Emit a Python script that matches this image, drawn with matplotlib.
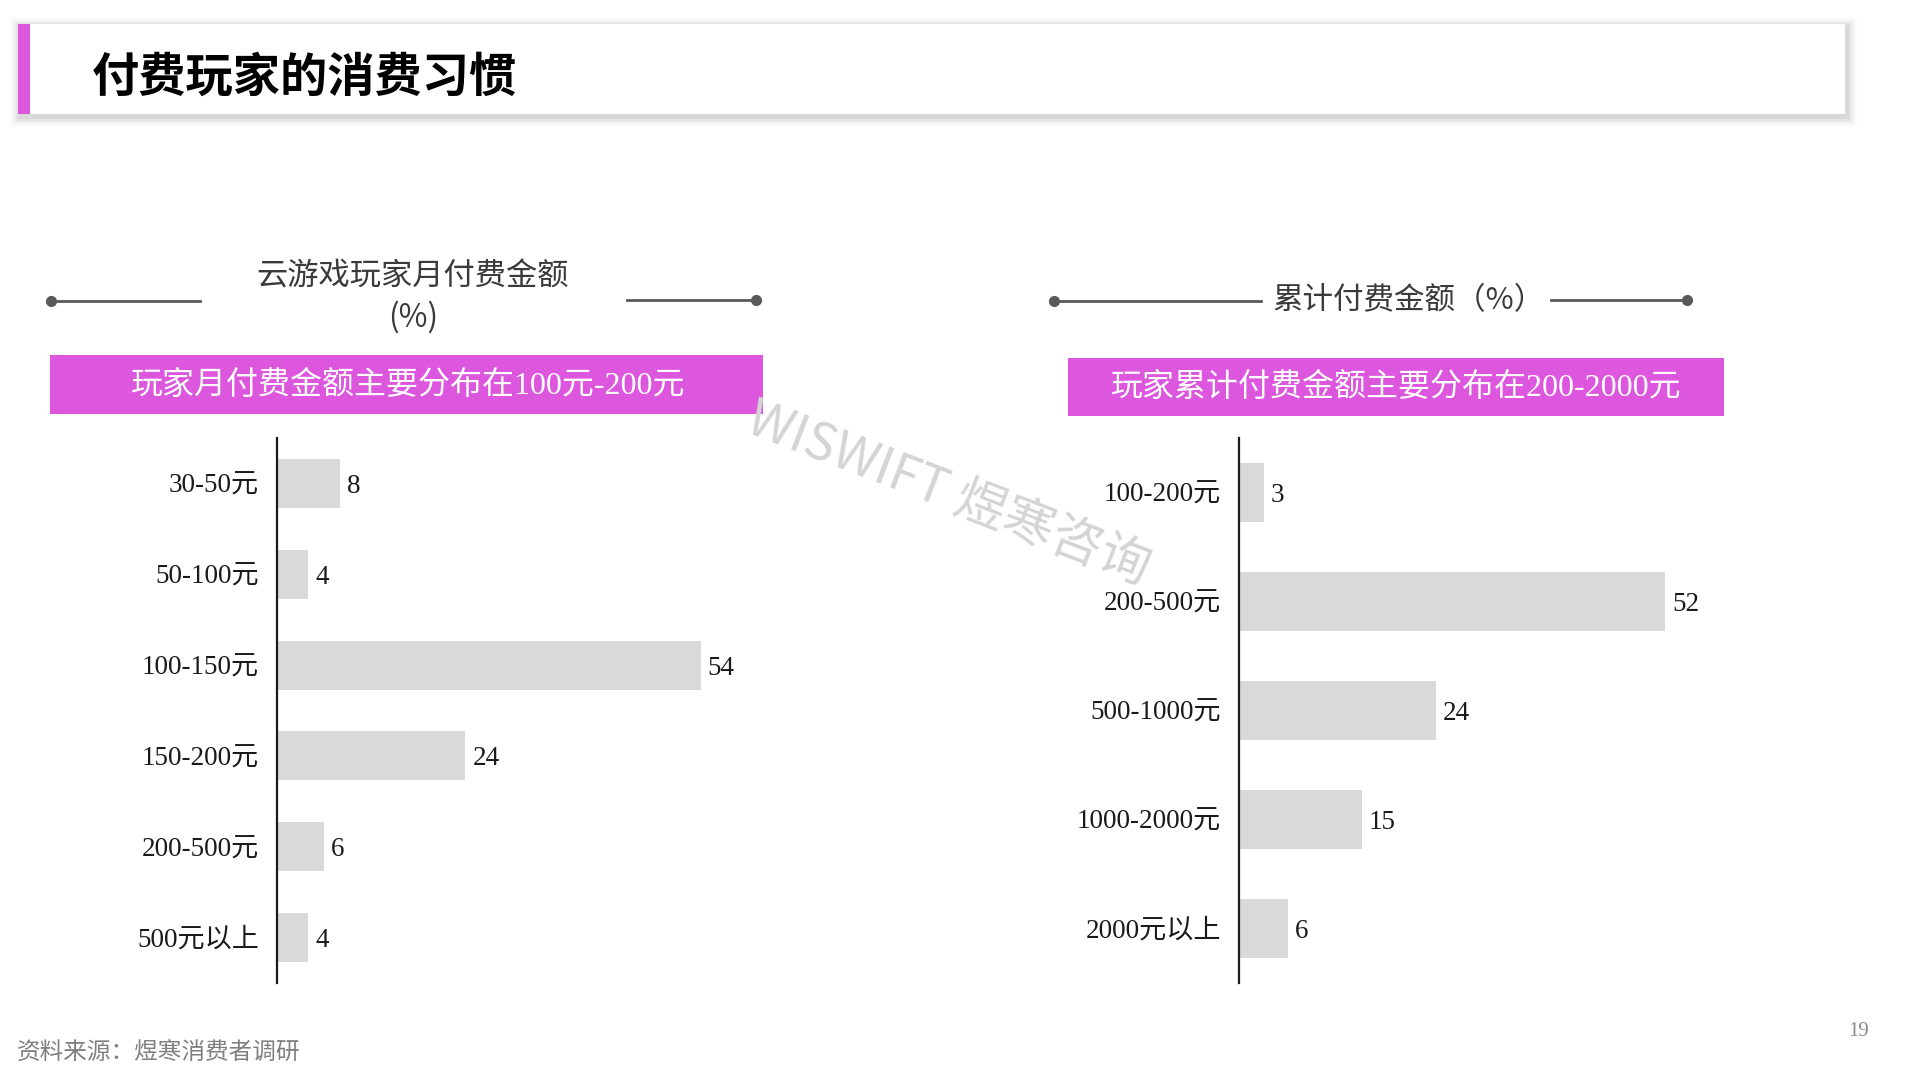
import matplotlib
matplotlib.use("Agg")
import matplotlib.pyplot as plt
from matplotlib.patches import Rectangle

plt.rcParams['font.family'] = ['Noto Sans CJK SC', 'DejaVu Sans']

# ---------------- data ----------------
page_title = "付费玩家的消费习惯"
left_title = "云游戏玩家月付费金额\n(%)"
left_banner = "玩家月付费金额主要分布在100元-200元"
left_cats = ['30-50元', '50-100元', '100-150元', '150-200元', '200-500元', '500元以上']
left_vals = [8, 4, 54, 24, 6, 4]

right_title = "累计付费金额（%）"
right_banner = "玩家累计付费金额主要分布在200-2000元"
right_cats = ['100-200元', '200-500元', '500-1000元', '1000-2000元', '2000元以上']
right_vals = [3, 52, 24, 15, 6]

source_text = "资料来源：煜寒消费者调研"
page_no = "19"
watermark = "WISWIFT 煜寒咨询"

MAGENTA = '#DC56DE'
BAR = '#D9D9D9'
LINE = '#595959'
SERIF = ['Liberation Serif', 'Noto Sans CJK SC']

W, H = 1920, 1080
fig = plt.figure(figsize=(19.2, 10.8), dpi=100)
fig.patch.set_facecolor('white')

# background canvas in pixel coordinates
bg = fig.add_axes([0, 0, 1, 1])
bg.set_xlim(0, W)
bg.set_ylim(H, 0)
bg.axis('off')

# header box with soft shadow
for i, a in enumerate([0.015, 0.02, 0.03, 0.04, 0.05]):
    d = 10 - 2 * i
    bg.add_patch(Rectangle((18 - d + 2, 24 - d + 3), 1827 + 2 * d, 90 + 2 * d,
                           facecolor='black', edgecolor='none', alpha=a, zorder=1))
bg.add_patch(Rectangle((18, 24), 1827, 90, facecolor='white', edgecolor='none', zorder=2))
bg.add_patch(Rectangle((18, 24), 12, 90, facecolor=MAGENTA, edgecolor='none', zorder=3))
bg.text(92, 78, page_title, fontsize=34, fontweight='bold', color='black',
        ha='left', va='center', zorder=4)

# left section title with lines
bg.text(413, 297, left_title, fontsize=22.5, color='#3a3a3a', ha='center', va='center',
        linespacing=1.3, zorder=4)
bg.plot([51, 200], [301, 301], color=LINE, lw=2, zorder=4)
bg.plot([51], [301], 'o', color=LINE, ms=7, zorder=4)
bg.plot([627, 756], [300, 300], color=LINE, lw=2, zorder=4)
bg.plot([756], [300], 'o', color=LINE, ms=7, zorder=4)

# left banner
bg.add_patch(Rectangle((50, 355), 713, 59, facecolor=MAGENTA, edgecolor='none', zorder=3))
bg.text(408, 386, left_banner, fontsize=23, color='white', ha='center', va='center',
        family=SERIF, zorder=4)

# right section title with lines
bg.text(1409, 301, right_title, fontsize=22, color='#3a3a3a', ha='center', va='center', zorder=4)
bg.plot([1054, 1261], [301, 301], color=LINE, lw=2, zorder=4)
bg.plot([1054], [301], 'o', color=LINE, ms=7, zorder=4)
bg.plot([1551, 1687], [300, 300], color=LINE, lw=2, zorder=4)
bg.plot([1687], [300], 'o', color=LINE, ms=7, zorder=4)

# right banner
bg.add_patch(Rectangle((1068, 358), 656, 58, facecolor=MAGENTA, edgecolor='none', zorder=3))
bg.text(1396, 388, right_banner, fontsize=23, color='white', ha='center', va='center',
        family=SERIF, zorder=4)

# watermark
bg.text(948, 495, watermark, fontsize=37, color='#d4d4d4', rotation=-21,
        ha='center', va='center', fontweight='light', zorder=5)

# footer
bg.text(17, 1053, source_text, fontsize=17, color='#7f7f7f', ha='left', va='center', zorder=4)
bg.text(1859, 1031, page_no, fontsize=15, color='#8c8c8c', ha='center', va='center',
        family=SERIF, zorder=4)


def bar_panel(rect_px, cats, vals, xmax, height):
    x0, y0, x1, y1 = rect_px
    ax = fig.add_axes([x0 / W, 1 - y1 / H, (x1 - x0) / W, (y1 - y0) / H])
    ax.set_facecolor('none')
    pos = list(range(len(cats)))
    bars = ax.barh(pos, vals, height=height, color=BAR, edgecolor='none', zorder=2)
    ax.set_ylim(len(cats) - 0.5, -0.5)
    ax.set_xlim(0, xmax)
    for s in ['top', 'right', 'bottom']:
        ax.spines[s].set_visible(False)
    ax.spines['left'].set_color('#1a1a1a')
    ax.spines['left'].set_linewidth(1.6)
    ax.set_xticks([])
    ax.set_yticks(pos)
    ax.set_yticklabels(cats, family=SERIF, fontsize=19.5, color='#1a1a1a')
    ax.tick_params(axis='y', length=0, pad=13)
    for b, v in zip(bars, vals):
        ax.annotate(str(v), (b.get_width(), b.get_y() + b.get_height() / 2),
                    xytext=(5, 0), textcoords='offset points', ha='left',
                    va='center_baseline', family=SERIF, fontsize=19.5, color='#1a1a1a')
    return ax


bar_panel((277, 438, 748, 983), left_cats, left_vals, 60, 0.54)
bar_panel((1239, 438, 1731, 983), right_cats, right_vals, 60, 0.55)

fig.savefig('out.png', dpi=100, facecolor='white')
